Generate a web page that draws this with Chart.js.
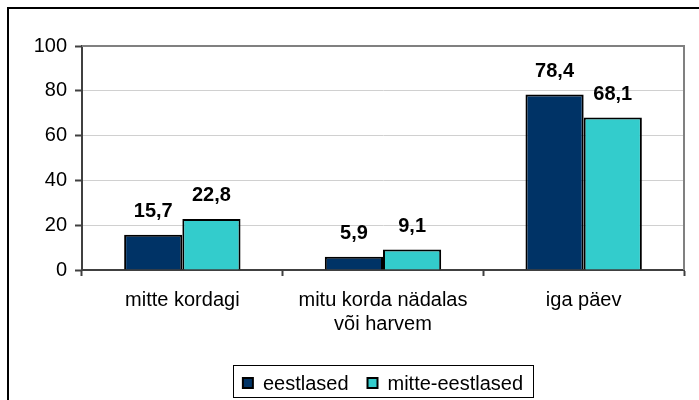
<!DOCTYPE html>
<html>
<head>
<meta charset="utf-8">
<script src="https://cdn.jsdelivr.net/npm/chart.js@4.4.0/dist/chart.umd.min.js"></script>
<style>
  html, body { margin: 0; padding: 0; background: #fff; }
  #wrap { width: 699px; height: 400px; position: relative; }
</style>
</head>
<body>
<div id="wrap"><canvas id="chart" width="699" height="400"></canvas></div>
<script>
const categories = ['mitte kordagi', ['mitu korda nädalas', 'või harvem'], 'iga päev'];
const eestlased = [15.7, 5.9, 78.4];
const mitteEestlased = [22.8, 9.1, 68.1];
const seriesNames = ['eestlased', 'mitte-eestlased'];
const yTicks = [0, 20, 40, 60, 80, 100];

const FONT = "'Liberation Sans', Arial, sans-serif";

const fmt = v => v.toFixed(1).replace('.', ',');

// frame, plot border, value labels, boxed legend
const decor = {
  id: 'decor',
  beforeDraw(chart) {
    const ctx = chart.ctx;
    ctx.save();
    ctx.fillStyle = '#000';
    ctx.fillRect(7, 7, 692, 2);
    ctx.fillRect(7, 7, 2, 393);
    ctx.restore();
  },
  beforeDatasetsDraw(chart) {
    const { ctx, chartArea: a } = chart;
    ctx.save();
    ctx.strokeStyle = '#808080';
    ctx.lineWidth = 2;
    ctx.beginPath();
    ctx.moveTo(a.left, a.top);
    ctx.lineTo(a.right, a.top);
    ctx.lineTo(a.right, a.bottom);
    ctx.stroke();
    ctx.restore();
  },
  afterDatasetsDraw(chart) {
    const ctx = chart.ctx;
    ctx.save();
    ctx.font = 'bold 20px ' + FONT;
    ctx.fillStyle = '#000';
    ctx.textAlign = 'center';
    ctx.textBaseline = 'middle';
    chart.data.datasets.forEach((ds, i) => {
      chart.getDatasetMeta(i).data.forEach((bar, j) => {
        ctx.fillText(fmt(ds.data[j]), bar.x, bar.y - 23);
      });
    });

    // legend
    ctx.font = '20px ' + FONT;
    ctx.textAlign = 'left';
    const box = 10, gap = 10, itemGap = 19;
    const items = chart.data.datasets.map(ds => ({ label: ds.label, color: ds.backgroundColor, w: ctx.measureText(ds.label).width }));
    let total = items.reduce((s, it) => s + box + gap + it.w, 0) + itemGap * (items.length - 1);
    const cx = (chart.chartArea.left + chart.chartArea.right) / 2;
    let x = cx - total / 2;
    const cy = 383;
    ctx.strokeStyle = '#000';
    ctx.lineWidth = 1;
    ctx.strokeRect(Math.round(x - 10) + 0.5, 365.5, Math.round(total + 20), 32);
    items.forEach(it => {
      ctx.fillStyle = it.color;
      ctx.fillRect(x, cy - box / 2, box, box);
      ctx.lineWidth = 2;
      ctx.strokeRect(x, cy - box / 2, box, box);
      ctx.fillStyle = '#000';
      ctx.fillText(it.label, x + box + gap, cy + 1);
      x += box + gap + it.w + itemGap;
    });
    ctx.restore();
  }
};

new Chart(document.getElementById('chart'), {
  type: 'bar',
  data: {
    labels: categories,
    datasets: [
      { label: seriesNames[0], data: eestlased, backgroundColor: '#003366', borderColor: '#000', borderWidth: 2,
        categoryPercentage: 0.58, barPercentage: 1 },
      { label: seriesNames[1], data: mitteEestlased, backgroundColor: '#33CCCC', borderColor: '#000', borderWidth: 2,
        categoryPercentage: 0.58, barPercentage: 1 }
    ]
  },
  options: {
    responsive: false,
    animation: false,
    layout: { padding: { top: 46, left: 20, right: 15, bottom: 70 } },
    plugins: { legend: { display: false }, tooltip: { enabled: false } },
    scales: {
      x: {
        grid: { offset: true, drawOnChartArea: false, tickLength: 6, tickColor: '#404040', tickWidth: 2 },
        border: { color: '#404040', width: 2 },
        ticks: { color: '#000', font: { family: FONT, size: 20, lineHeight: 1.2 }, padding: 12, maxRotation: 0 },
        afterFit: s => { s.height = 60; }
      },
      y: {
        min: 0, max: 100,
        afterBuildTicks: s => { s.ticks = yTicks.map(v => ({ value: v })); },
        grid: { color: '#d0d0d0', lineWidth: 1, tickLength: 7, tickColor: '#404040', tickWidth: 2 },
        border: { color: '#404040', width: 2 },
        ticks: { color: '#000', font: { family: FONT, size: 20 }, padding: 8 },
        afterFit: s => { s.width = 62; }
      }
    }
  },
  plugins: [decor]
});
</script>
</body>
</html>
